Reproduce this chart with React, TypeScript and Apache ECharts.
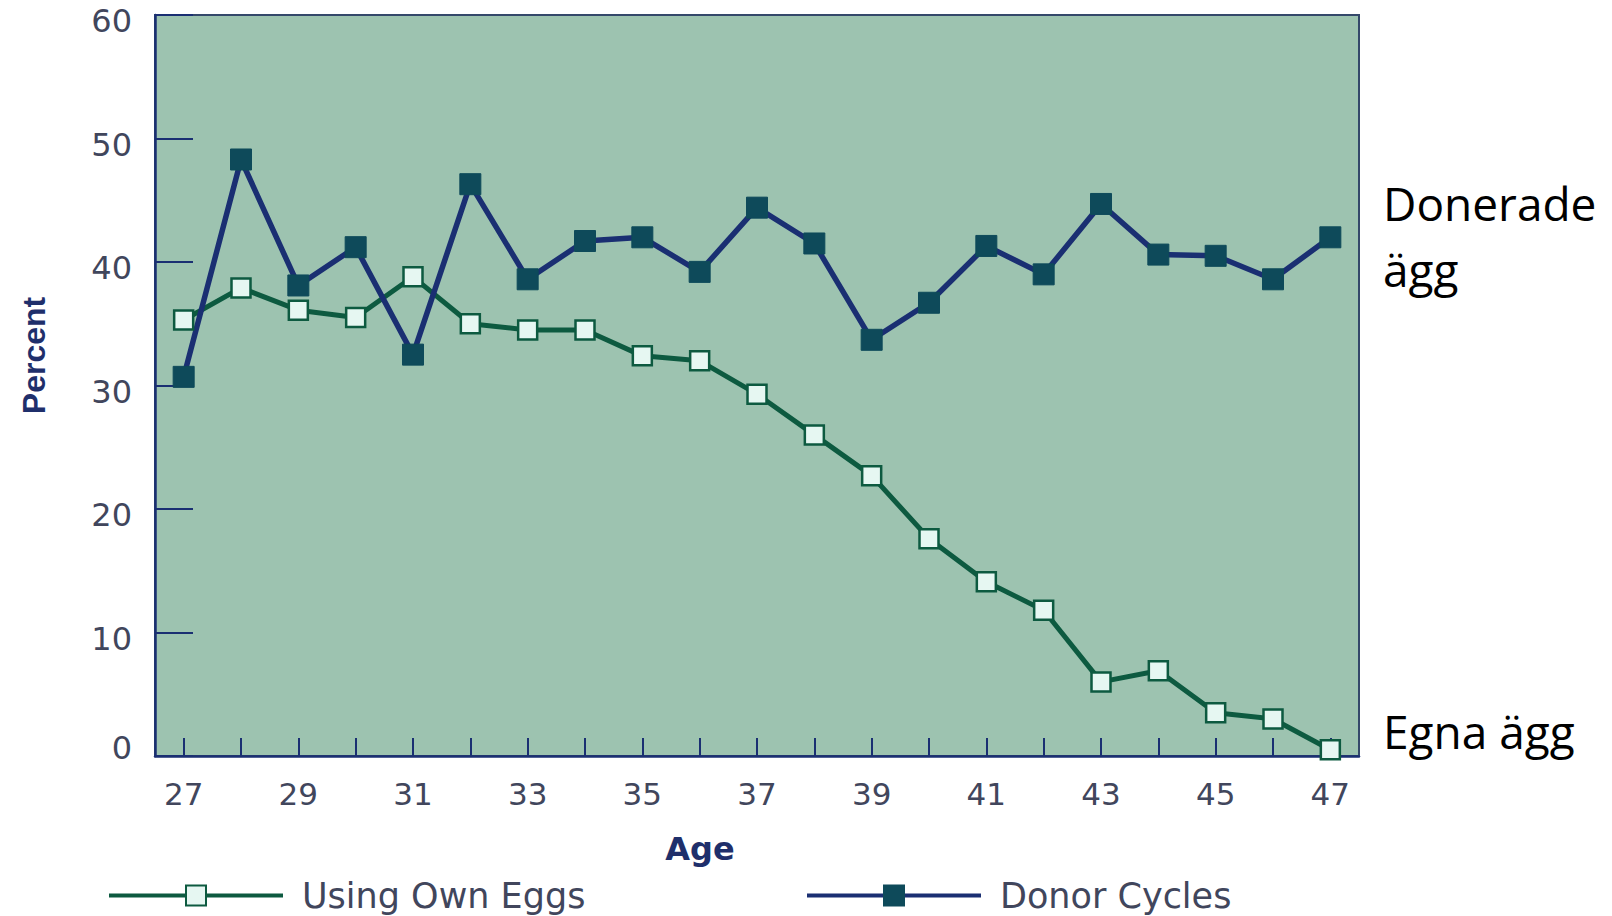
import React, { useEffect, useRef } from 'react';
import * as echarts from 'echarts';

const ages = ['27', '28', '29', '30', '31', '32', '33', '34', '35', '36', '37', '38', '39', '40', '41', '42', '43', '44', '45', '46', '47'];
const ownEggs = [35.3, 37.9, 36.1, 35.5, 38.8, 35.0, 34.5, 34.5, 32.4, 32.0, 29.3, 26.0, 22.7, 17.6, 14.1, 11.8, 6.0, 6.9, 3.5, 3.0, 0.5];
const donorCycles = [30.7, 48.3, 38.1, 41.2, 32.5, 46.3, 38.6, 41.7, 42.0, 39.2, 44.4, 41.5, 33.7, 36.7, 41.3, 39.0, 44.7, 40.6, 40.5, 38.6, 42.0];
const seriesNames = ['Using Own Eggs', 'Donor Cycles'];
const yMin = 0;
const yMax = 60;
const yInterval = 10;
const xAxisTitle = 'Age';
const yAxisTitle = 'Percent';
const donorNote = 'Donerade\nägg';
const ownNote = 'Egna ägg';

const FONT = '"DejaVu Sans", sans-serif';
const LABEL_COLOR = '#41465c';
const TITLE_COLOR = '#1f2f6b';
const NAVY = '#1a2f72';
const GREEN = '#0d5a40';

export default function App() {
  const ref = useRef<HTMLDivElement>(null);

  useEffect(() => {
    if (!ref.current) return;
    const chart = echarts.init(ref.current, undefined, { renderer: 'svg' });
    const legendCommon = {
      top: 873,
      itemWidth: 174,
      itemHeight: 25,
      lineStyle: { width: 4 },
      textStyle: { fontFamily: FONT, fontSize: 35, color: LABEL_COLOR, padding: [0, 0, 0, 14] },
    };
    chart.setOption({
      animation: false,
      backgroundColor: '#ffffff',
      grid: {
        left: 155,
        top: 15,
        width: 1204,
        height: 741,
        show: true,
        backgroundColor: '#9dc3b0',
        borderColor: '#34486a',
        borderWidth: 2,
      },
      legend: [
        { ...legendCommon, data: [seriesNames[0]], left: 102 },
        { ...legendCommon, data: [seriesNames[1]], left: 800 },
      ],
      xAxis: {
        type: 'category',
        data: ages,
        boundaryGap: true,
        name: xAxisTitle,
        nameLocation: 'middle',
        nameGap: 77,
        nameTextStyle: {
          fontFamily: FONT,
          fontSize: 32,
          fontWeight: 'bold',
          color: TITLE_COLOR,
          padding: [0, 114, 0, 0],
        },
        axisLine: { show: true, lineStyle: { color: NAVY, width: 2.5 } },
        axisTick: {
          show: true,
          inside: true,
          alignWithLabel: true,
          interval: 0,
          length: 18,
          lineStyle: { color: NAVY, width: 2 },
        },
        axisLabel: {
          interval: 1,
          margin: 22,
          fontFamily: FONT,
          fontSize: 31,
          color: LABEL_COLOR,
        },
        splitLine: { show: false },
      },
      yAxis: {
        type: 'value',
        min: yMin,
        max: yMax,
        interval: yInterval,
        name: yAxisTitle,
        nameLocation: 'middle',
        nameRotate: 90,
        nameGap: 105,
        nameTextStyle: {
          fontFamily: '"Liberation Sans", Arial, sans-serif',
          fontSize: 32,
          fontWeight: 'bold',
          color: TITLE_COLOR,
          padding: [0, 0, 0, 60],
        },
        axisLine: { show: true, lineStyle: { color: NAVY, width: 2.5 } },
        axisTick: {
          show: true,
          inside: true,
          length: 38,
          lineStyle: { color: NAVY, width: 2 },
        },
        axisLabel: {
          margin: 23,
          formatter: (v: number) => (v === 0 ? `{z|${v}}` : `{n|${v}}`),
          rich: {
            n: { fontFamily: FONT, fontSize: 32, color: LABEL_COLOR, padding: [12, 0, 0, 0] },
            z: { fontFamily: FONT, fontSize: 32, color: LABEL_COLOR, padding: [0, 0, 16, 0] },
          },
        },
        splitLine: { show: false },
      },
      series: [
        {
          name: seriesNames[0],
          type: 'line',
          data: ownEggs,
          symbol: 'rect',
          symbolSize: 19,
          lineStyle: { color: GREEN, width: 5 },
          itemStyle: { color: '#e6f7f2', borderColor: GREEN, borderWidth: 2.5 },
        },
        {
          name: seriesNames[1],
          type: 'line',
          data: donorCycles,
          symbol: 'rect',
          symbolSize: 21,
          lineStyle: { color: NAVY, width: 5.5 },
          itemStyle: { color: '#0e4a5a', borderColor: '#0e4a5a', borderWidth: 1 },
        },
      ],
      graphic: [
        {
          type: 'text',
          left: 1383,
          top: 170,
          style: {
            text: donorNote,
            fontFamily: '"Open Sans", sans-serif',
            fontSize: 46,
            lineHeight: 66,
            fill: '#000000',
          },
        },
        {
          type: 'text',
          left: 1383,
          top: 698,
          style: {
            text: ownNote,
            fontFamily: '"Open Sans", sans-serif',
            fontSize: 46,
            lineHeight: 66,
            fill: '#000000',
          },
        },
      ],
    });
    return () => chart.dispose();
  }, []);

  return <div ref={ref} style={{ position: 'fixed', left: 0, top: 0, width: 1612, height: 916 }} />;
}
